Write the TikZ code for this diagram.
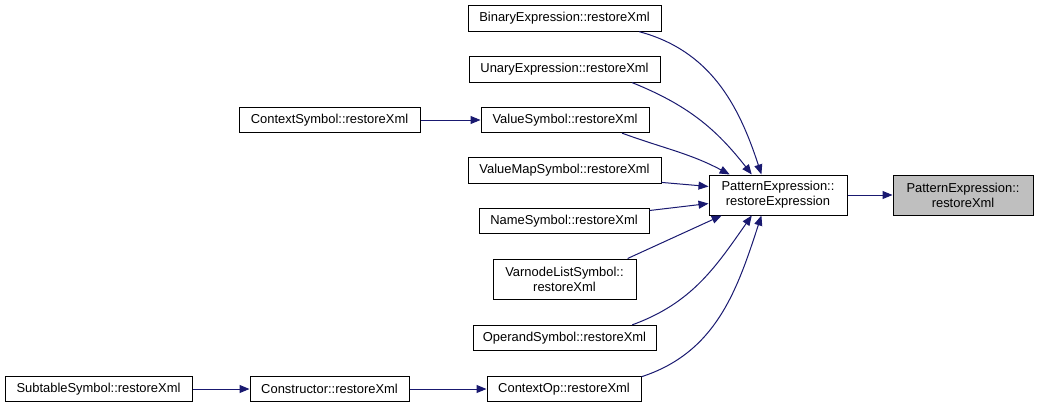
\documentclass[tikz,border=0pt]{standalone}
\usepackage{fontspec}
\setmainfont{Liberation Sans}
\usetikzlibrary{arrows.meta}
\definecolor{edgeblue}{HTML}{191970}
\definecolor{hlgray}{HTML}{BFBFBF}

\begin{document}
\begin{tikzpicture}[x=0.75pt,y=0.75pt,>={Triangle[length=7.5pt,width=6pt]},
    fn/.style={draw,line width=0.75pt,fill=white,inner sep=0pt,align=center,
      minimum height=19pt,font=\fontsize{9.7}{11.3}\selectfont},
    fn2/.style={fn,minimum height=30pt},
    call/.style={edgeblue,line width=0.75pt}]
    \useasboundingbox (0,0) rectangle (1037,408);
    % callers of restoreExpression
    \node[fn,minimum width=144.75pt] (binary) at (564.5,389.5) {BinaryExpression::restoreXml};
    \node[fn,minimum width=143.25pt] (unary) at (564.5,338.5) {UnaryExpression::restoreXml};
    \node[fn,minimum width=126pt] (valsym) at (565,288) {ValueSymbol::restoreXml};
    \node[fn,minimum width=144.75pt] (valmap) at (564.5,237.5) {ValueMapSymbol::restoreXml};
    \node[fn,minimum width=127.5pt] (namesym) at (564,187) {NameSymbol::restoreXml};
    \node[fn2,minimum width=107.25pt] (varnode) at (564.5,129) {VarnodeListSymbol::\\restoreXml};
    \node[fn,minimum width=137.25pt] (operand) at (564.5,70) {OperandSymbol::restoreXml};
    \node[fn,minimum width=115.5pt] (ctxop) at (564,19) {ContextOp::restoreXml};
    % further left
    \node[fn,minimum width=135.75pt] (ctxsym) at (329.5,288) {ContextSymbol::restoreXml};
    \node[fn,minimum width=140.25pt] (subtable) at (98.5,19) {SubtableSymbol::restoreXml};
    \node[fn,minimum width=119.25pt] (ctor) at (329.5,19) {Constructor::restoreXml};
    % right side
    \node[fn2,minimum width=103.5pt] (pexpr) at (778,213) {PatternExpression::\\restoreExpression};
    \node[fn2,minimum width=105pt,fill=hlgray] (pxml) at (963,213) {PatternExpression::\\restoreXml};

    \path[call,->]
      (pexpr) edge (pxml)
      (ctxsym) edge (valsym)
      (subtable) edge (ctor)
      (ctor) edge (ctxop)
      (binary.-10) edge[out=-15,in=108] (pexpr.129)
      (unary.-11) edge[out=-22,in=128] (pexpr.142)
      (valsym.-13) edge[out=-20,in=152] (pexpr.157)
      (valmap.-7) edge (pexpr.173)
      (namesym.7) edge (pexpr.187)
      (varnode.18) edge (pexpr.200)
      (operand.11) edge[out=20,in=-125] (pexpr.218)
      (ctxop.9) edge[out=18,in=-108] (pexpr.231);
\end{tikzpicture}
\end{document}
